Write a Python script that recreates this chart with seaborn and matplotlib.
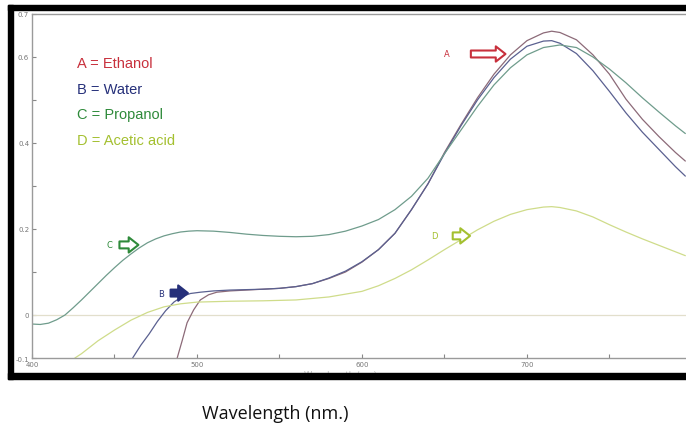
import pandas as pd
import matplotlib.pyplot as plt
import seaborn as sns
from matplotlib.patches import Rectangle

# Absorbance spectra
wl_a = [488, 491, 494, 498, 502, 507, 512, 520, 530, 540, 550, 560, 570, 580, 590, 600,
        610, 620, 630, 640, 650, 660, 670, 680, 690, 700, 710, 715, 720, 730, 740, 750,
        760, 770, 780, 790, 796]
abs_a = [-0.100, -0.060, -0.018, 0.012, 0.035, 0.047, 0.053, 0.056, 0.058, 0.060, 0.062,
         0.066, 0.073, 0.085, 0.100, 0.123, 0.152, 0.190, 0.245, 0.305, 0.378, 0.443,
         0.505, 0.560, 0.605, 0.638, 0.656, 0.660, 0.657, 0.640, 0.605, 0.560, 0.502,
         0.455, 0.415, 0.378, 0.358]

wl_b = [461, 466, 471, 476, 481, 486, 491, 496, 502, 510, 520, 530, 540, 550, 560, 570,
        580, 590, 600, 610, 620, 630, 640, 650, 660, 670, 680, 690, 700, 710, 715, 720,
        730, 740, 750, 760, 770, 780, 790, 796]
abs_b = [-0.100, -0.070, -0.044, -0.015, 0.010, 0.030, 0.043, 0.050, 0.053, 0.056, 0.058,
         0.059, 0.060, 0.062, 0.066, 0.073, 0.086, 0.102, 0.124, 0.152, 0.190, 0.245,
         0.305, 0.375, 0.440, 0.500, 0.552, 0.595, 0.625, 0.637, 0.638, 0.632, 0.608,
         0.568, 0.520, 0.470, 0.425, 0.385, 0.345, 0.323]

wl_c = [400, 405, 410, 415, 420, 425, 430, 435, 440, 445, 450, 455, 460, 465, 470, 475,
        480, 485, 490, 495, 500, 510, 520, 530, 540, 550, 560, 570, 580, 590, 600, 610,
        620, 630, 640, 650, 660, 670, 680, 690, 700, 710, 720, 730, 740, 750, 760, 770,
        780, 790, 796]
abs_c = [-0.021, -0.022, -0.019, -0.011, 0.000, 0.017, 0.035, 0.054, 0.073, 0.092, 0.110,
         0.127, 0.142, 0.156, 0.168, 0.177, 0.184, 0.189, 0.193, 0.195, 0.196, 0.195,
         0.192, 0.188, 0.185, 0.183, 0.182, 0.183, 0.187, 0.195, 0.207, 0.222, 0.245,
         0.276, 0.318, 0.375, 0.430, 0.485, 0.535, 0.575, 0.605, 0.622, 0.628, 0.622,
         0.600, 0.572, 0.540, 0.505, 0.472, 0.440, 0.422]

wl_d = [426, 430, 440, 450, 460, 470, 480, 490, 500, 520, 540, 560, 580, 600, 610, 620,
        630, 640, 650, 660, 670, 680, 690, 700, 710, 715, 720, 730, 740, 750, 760, 770,
        780, 790, 796]
abs_d = [-0.100, -0.090, -0.060, -0.035, -0.012, 0.006, 0.019, 0.026, 0.030, 0.032, 0.033,
         0.035, 0.042, 0.055, 0.068, 0.085, 0.105, 0.128, 0.152, 0.175, 0.198, 0.218,
         0.234, 0.245, 0.251, 0.252, 0.250, 0.242, 0.228, 0.210, 0.193, 0.177, 0.162,
         0.147, 0.138]

names = ["Ethanol", "Water", "Propanol", "Acetic acid"]
letters = ["A", "B", "C", "D"]
line_colors = ["#8c6a78", "#5a6090", "#6f9c8c", "#cfdc8a"]
text_colors = ["#c8303c", "#26307a", "#2e8a3a", "#a4c030"]

frames = []
for name, x, y in zip(names, [wl_a, wl_b, wl_c, wl_d], [abs_a, abs_b, abs_c, abs_d]):
    frames.append(pd.DataFrame({"wavelength": x, "absorbance": y, "solvent": name}))
df = pd.concat(frames, ignore_index=True)

sns.set_style("white")
fig = plt.figure(figsize=(6.86, 4.27), dpi=100)
ax = fig.add_axes([32 / 686, 1 - 359 / 427, 654 / 686, 344 / 427])

ax.axhline(0, color="#e2dfcc", lw=0.9, zorder=1)
sns.lineplot(data=df, x="wavelength", y="absorbance", hue="solvent",
             palette=dict(zip(names, line_colors)), lw=0.9, legend=False,
             sort=False, ax=ax, zorder=2)

ax.set_xlim(400, 796.4)
ax.set_ylim(-0.1, 0.7)
ax.set_xticks([400, 450, 500, 550, 600, 650, 700, 750])
ax.set_xticklabels(["400", "", "500", "", "600", "", "700", ""])
ax.set_yticks([-0.1, 0, 0.1, 0.2, 0.3, 0.4, 0.5, 0.6, 0.7])
ax.set_yticklabels(["-0.1", "0", "", "0.2", "", "0.4", "", "0.6", "0.7"])
ax.tick_params(direction="in", length=3, width=0.8, color="#888888",
               labelsize=5, labelcolor="#777777", pad=2, left=True, bottom=True)
ax.set_xlabel("")
ax.set_ylabel("")
for side in ["left", "top", "bottom"]:
    ax.spines[side].set_color("#9a9a9a")
    ax.spines[side].set_linewidth(1)
ax.spines["right"].set_visible(False)

# legend text
for i, (letter, name) in enumerate(zip(letters, names)):
    ax.text(427, 0.586 - i * 0.0595, f"{letter} = {name}", color=text_colors[i],
            fontsize=10.5, family="Liberation Sans", va="center")

# arrow markers next to the curves
marks = [("A", 651.5, 0.607, 666, 687, 0.607),
         ("C", 447, 0.163, 453, 464.5, 0.163),
         ("B", 478, 0.051, 484, 494.5, 0.051),
         ("D", 643.6, 0.184, 655, 665.5, 0.184)]
for letter, tx, ty, x0, x1, ay in marks:
    c = text_colors[letters.index(letter)]
    ax.text(tx, ty, letter, color=c, fontsize=6, ha="center", va="center")
    fc = c if letter == "B" else "white"
    ax.annotate("", xy=(x1, ay), xytext=(x0, ay),
                arrowprops=dict(arrowstyle="simple,head_width=1.1,head_length=0.7,tail_width=0.5",
                                fc=fc, ec=c, lw=1.5, shrinkA=0, shrinkB=0))

# faint axis title of the screenshot, mostly hidden under the frame
fig.text(340 / 686, 1 - 376 / 427, "Wavelength (nm)", fontsize=6, color="#bbbbbb",
         ha="center", va="center")

# black screenshot frame
for x, y, w, h in [(8, 6, 686, 5), (8, 6, 5, 374), (8, 374, 686, 6)]:
    fig.patches.append(Rectangle((x / 686, 1 - (y + h) / 427), w / 686, h / 427,
                                 transform=fig.transFigure, color="black", zorder=5))

fig.text(275 / 686, 1 - 414 / 427, "Wavelength (nm.)", fontsize=13,
         family="Open Sans", ha="center", va="center", color="#111111")

plt.savefig("out.png", dpi=100)
plt.close()
